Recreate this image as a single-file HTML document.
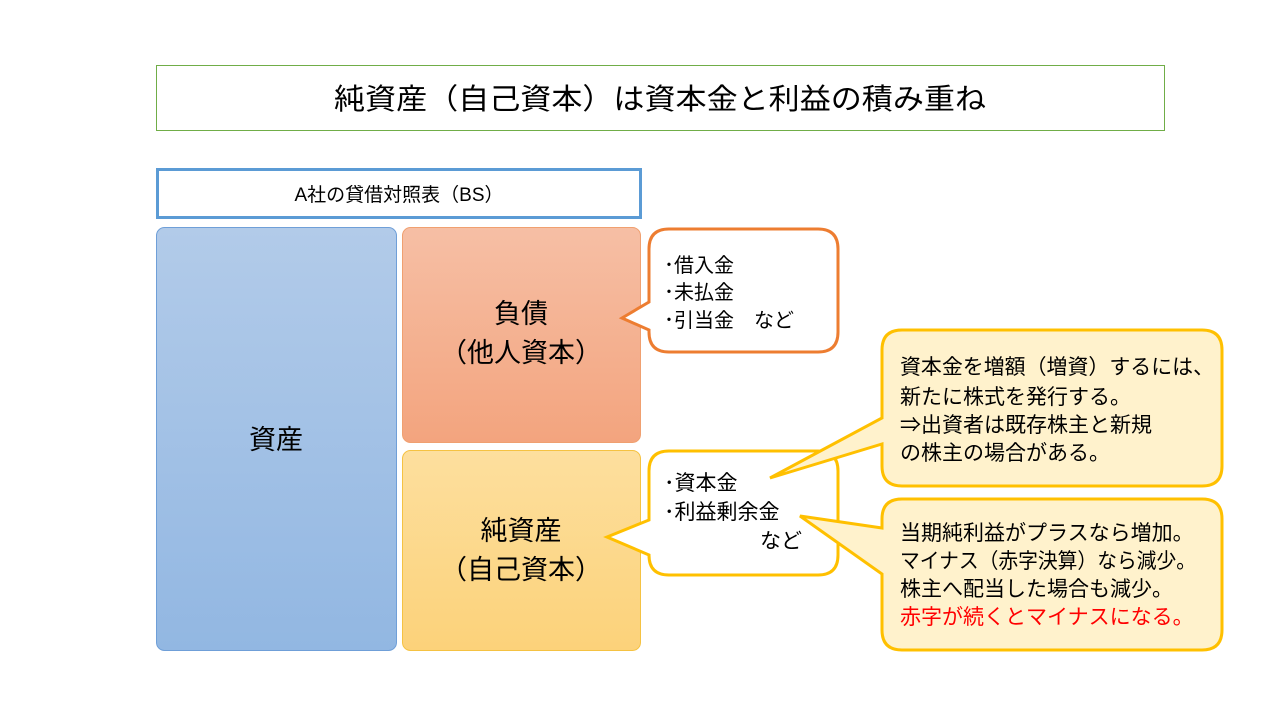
<!DOCTYPE html>
<html><head><meta charset="utf-8"><style>
body{margin:0;background:#fff;}
svg text{font-family:"Liberation Sans","Noto Sans CJK JP",sans-serif;fill:#000;}
</style></head><body>
<svg width="1280" height="720" xmlns="http://www.w3.org/2000/svg">
<defs>
<linearGradient id="gb" x1="0" y1="0" x2="0" y2="1"><stop offset="0" stop-color="#b2cbe9"/><stop offset="1" stop-color="#92b7e2"/></linearGradient>
<linearGradient id="go" x1="0" y1="0" x2="0" y2="1"><stop offset="0" stop-color="#f6bfa5"/><stop offset="1" stop-color="#f3a47e"/></linearGradient>
<linearGradient id="gy" x1="0" y1="0" x2="0" y2="1"><stop offset="0" stop-color="#fddf9e"/><stop offset="1" stop-color="#fcd27a"/></linearGradient>
</defs>
<rect x="156.5" y="65.5" width="1008" height="65" fill="#fff" stroke="#70ad47" stroke-width="1"/>
<text x="660" y="109" font-size="29" text-anchor="middle" textLength="652" lengthAdjust="spacingAndGlyphs">純資産（自己資本）は資本金と利益の積み重ね</text>
<rect x="157.5" y="169.5" width="483" height="48" fill="#fff" stroke="#5b9bd5" stroke-width="3"/>
<text x="399" y="201" font-size="19" text-anchor="middle">A社の貸借対照表（BS）</text>
<rect x="156.5" y="227.5" width="240" height="423" rx="8" fill="url(#gb)" stroke="#6f9fd8"/>
<text x="276" y="449" font-size="27" text-anchor="middle">資産</text>
<rect x="402.5" y="227.5" width="238" height="215" rx="8" fill="url(#go)" stroke="#f0a070"/>
<text x="521" y="323" font-size="27" text-anchor="middle">負債</text>
<text x="521" y="362" font-size="27" text-anchor="middle">（他人資本）</text>
<rect x="402.5" y="450.5" width="238" height="200" rx="8" fill="url(#gy)" stroke="#f5c242"/>
<text x="521" y="540" font-size="27" text-anchor="middle">純資産</text>
<text x="521" y="579" font-size="27" text-anchor="middle">（自己資本）</text>
<path d="M669,229 H818 Q838,229 838,249 V332 Q838,352 818,352 H669 Q649,352 649,332 V330 L622,318 L649,302 V249 Q649,229 669,229 Z" fill="#fff" stroke="#ed7d31" stroke-width="3"/>
<text x="664" y="272" font-size="20">･借入金</text>
<text x="664" y="299" font-size="20">･未払金</text>
<text x="664" y="327" font-size="20">･引当金　など</text>
<path d="M669,451 H818 Q838,451 838,471 V555 Q838,575 818,575 H669 Q649,575 649,555 V555 L607,537 L649,520 V471 Q649,451 669,451 Z" fill="#fff" stroke="#ffc000" stroke-width="3"/>
<text x="664" y="490" font-size="21">･資本金</text>
<text x="664" y="519" font-size="21">･利益剰余金</text>
<text x="760" y="548" font-size="21">など</text>
<path d="M902,330 H1202 Q1222,330 1222,350 V466 Q1222,486 1202,486 H902 Q882,486 882,466 V444 L770,478 L882,418 V350 Q882,330 902,330 Z" fill="#fff2cc" stroke="#ffc000" stroke-width="3"/>
<text x="900" y="374" font-size="21" textLength="314" lengthAdjust="spacingAndGlyphs">資本金を増額（増資）するには、</text>
<text x="900" y="404" font-size="21">新たに株式を発行する。</text>
<text x="900" y="432" font-size="21">⇒出資者は既存株主と新規</text>
<text x="900" y="460" font-size="21">の株主の場合がある。</text>
<path d="M902,499 H1202 Q1222,499 1222,519 V630 Q1222,650 1202,650 H902 Q882,650 882,630 V574 L800,516 L882,528 V519 Q882,499 902,499 Z" fill="#fff2cc" stroke="#ffc000" stroke-width="3"/>
<text x="900" y="540" font-size="21">当期純利益がプラスなら増加。</text>
<text x="900" y="568" font-size="21" textLength="296" lengthAdjust="spacingAndGlyphs">マイナス（赤字決算）なら減少。</text>
<text x="900" y="596" font-size="21">株主へ配当した場合も減少。</text>
<text x="900" y="624" font-size="21" style="fill:#ff0000">赤字が続くとマイナスになる。</text>
</svg>
</body></html>
